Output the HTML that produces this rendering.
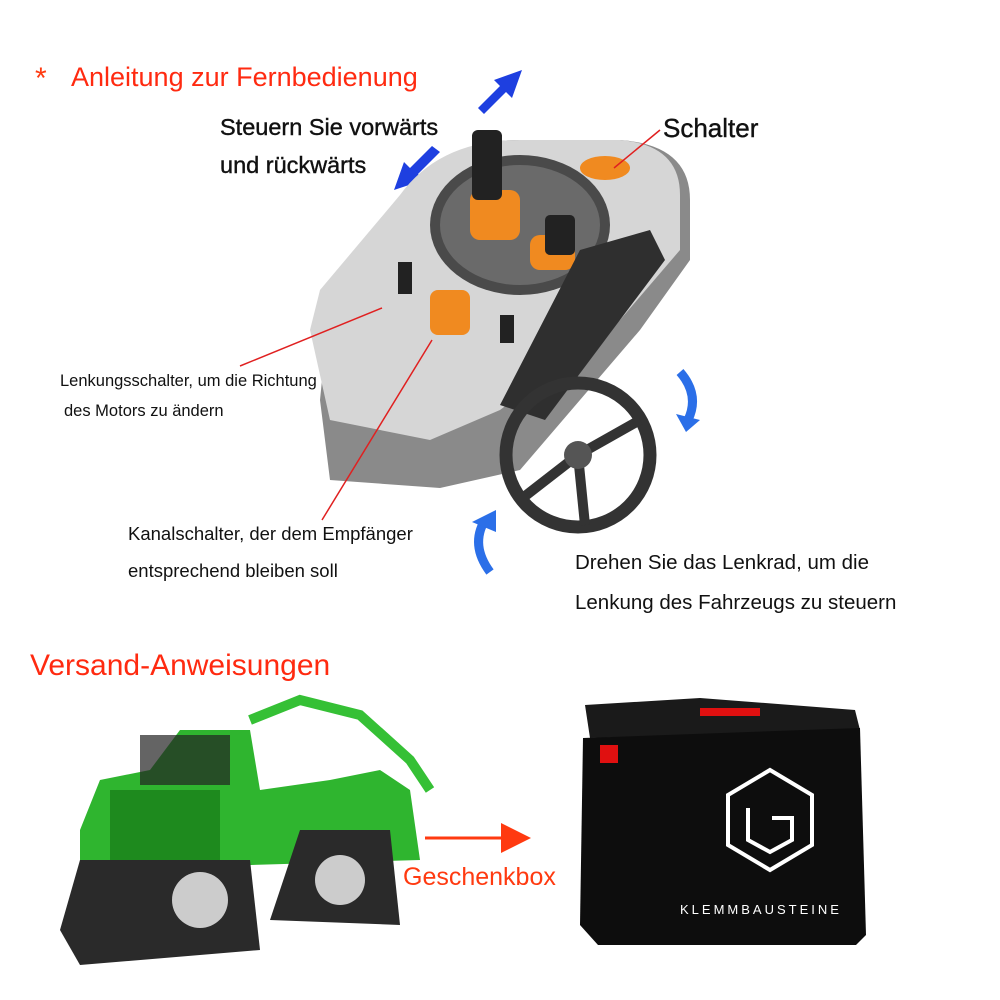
<!DOCTYPE html>
<html><head><meta charset="utf-8"><style>
html,body{margin:0;padding:0;background:#fff;}
#c{position:relative;width:1000px;height:1000px;overflow:hidden;font-family:"Liberation Sans",sans-serif;}
.t{position:absolute;white-space:nowrap;line-height:1;}
svg{position:absolute;left:0;top:0;}
</style></head><body><div id="c">
<svg width="1000" height="1000" viewBox="0 0 1000 1000">
<defs>
<marker id="rh" markerWidth="10" markerHeight="10" refX="8" refY="5" orient="auto"><path d="M0,0 L10,5 L0,10 z" fill="#ff3a10"/></marker>
</defs>
<polygon points="478,108 500,86 494,80 522,70 512,98 506,92 484,114" fill="#1e3fe0"/>
<polygon points="440,152 418,174 424,180 394,190 404,162 410,168 432,146" fill="#1e3fe0"/>
<path d="M680,372 Q700,395 688,420" stroke="#2b6fe8" stroke-width="9" fill="none"/>
<polygon points="676,414 700,420 686,432" fill="#2b6fe8"/>
<path d="M490,572 Q470,545 485,520" stroke="#2b6fe8" stroke-width="9" fill="none"/>
<polygon points="472,522 496,510 496,532" fill="#2b6fe8"/>
<path d="M330,300 L400,200 Q440,140 520,140 L620,140 Q690,145 690,200 L690,260 L640,330 L520,470 L440,488 L330,480 L320,400 Z" fill="#8a8a8a"/>
<path d="M320,290 L400,195 Q440,140 520,140 L620,140 Q680,145 680,195 L680,250 L620,320 L500,410 L430,440 L330,420 L310,330 Z" fill="#d6d6d6"/>
<ellipse cx="520" cy="225" rx="90" ry="70" fill="#4a4a4a"/>
<ellipse cx="520" cy="225" rx="80" ry="60" fill="#6a6a6a"/>
<rect x="470" y="190" width="50" height="50" rx="10" fill="#f08a20"/>
<rect x="530" y="235" width="45" height="35" rx="10" fill="#f08a20"/>
<rect x="472" y="130" width="30" height="70" rx="6" fill="#222"/>
<rect x="545" y="215" width="30" height="40" rx="5" fill="#222"/>
<ellipse cx="605" cy="168" rx="25" ry="12" fill="#f08a20"/>
<rect x="430" y="290" width="40" height="45" rx="8" fill="#f08a20"/>
<rect x="398" y="262" width="14" height="32" fill="#222"/>
<rect x="500" y="315" width="14" height="28" fill="#222"/>
<path d="M580,250 L650,230 L665,260 L545,420 L500,405 Z" fill="#2f2f2f"/>
<circle cx="578" cy="455" r="72" fill="none" stroke="#333" stroke-width="13"/>
<line x1="578" y1="455" x2="520" y2="500" stroke="#333" stroke-width="10"/>
<line x1="578" y1="455" x2="640" y2="420" stroke="#333" stroke-width="10"/>
<line x1="578" y1="455" x2="585" y2="525" stroke="#333" stroke-width="10"/>
<circle cx="578" cy="455" r="14" fill="#555"/>
<line x1="660" y1="130" x2="614" y2="168" stroke="#e02020" stroke-width="1.5"/>
<line x1="382" y1="308" x2="240" y2="366" stroke="#e02020" stroke-width="1.5"/>
<line x1="432" y1="340" x2="322" y2="520" stroke="#e02020" stroke-width="1.5"/>
<path d="M80,830 L100,780 L150,770 L180,730 L250,730 L260,790 L330,780 L380,770 L410,790 L420,860 L80,870 Z" fill="#2fb52f"/>
<path d="M250,720 L300,700 L360,715 L410,760 L430,790" stroke="#35c035" stroke-width="10" fill="none"/>
<rect x="140" y="735" width="90" height="50" fill="#222" opacity=".7"/>
<rect x="110" y="790" width="110" height="80" fill="#1e8a1e"/>
<path d="M60,930 L80,860 L250,860 L260,950 L80,965 Z" fill="#2a2a2a"/>
<path d="M270,920 L300,830 L390,830 L400,925 Z" fill="#2a2a2a"/>
<circle cx="200" cy="900" r="28" fill="#ccc"/>
<circle cx="340" cy="880" r="25" fill="#ccc"/>
<line x1="425" y1="838" x2="525" y2="838" stroke="#ff3a10" stroke-width="3" marker-end="url(#rh)"/>
<polygon points="585,705 700,698 855,710 860,730 590,738" fill="#1a1a1a"/>
<polygon points="583,738 860,728 866,935 856,945 598,945 580,925" fill="#0d0d0d"/>
<polygon points="700,708 760,708 760,716 700,716" fill="#e01010"/>
<rect x="600" y="745" width="18" height="18" fill="#e01010"/>
<g stroke="#fff" stroke-width="4" fill="none">
<polygon points="770,770 812,795 812,845 770,870 728,845 728,795"/>
<path d="M748,808 L748,840 L770,852 L792,840 L792,818 L772,818"/>
</g>
</svg>
<div class="t" style="left:35px;top:64px;font-size:30px;color:#ff3a10;">*</div>
<div class="t" style="left:71px;top:64px;font-size:27px;color:#ff2a10;">Anleitung zur Fernbedienung</div>
<div class="t" style="left:220px;top:116px;font-size:23.5px;color:#111;-webkit-text-stroke:.4px #111;">Steuern Sie vorwärts</div>
<div class="t" style="left:220px;top:154px;font-size:23.5px;color:#111;-webkit-text-stroke:.4px #111;">und rückwärts</div>
<div class="t" style="left:663px;top:115px;font-size:26px;color:#111;-webkit-text-stroke:.4px #111;">Schalter</div>
<div class="t" style="left:60px;top:373px;font-size:16.5px;color:#111;">Lenkungsschalter, um die Richtung</div>
<div class="t" style="left:64px;top:403px;font-size:16.5px;color:#111;">des Motors zu ändern</div>
<div class="t" style="left:128px;top:525px;font-size:18.5px;color:#111;">Kanalschalter, der dem Empfänger</div>
<div class="t" style="left:128px;top:562px;font-size:18.5px;color:#111;">entsprechend bleiben soll</div>
<div class="t" style="left:575px;top:553px;font-size:20.5px;color:#111;">Drehen Sie das Lenkrad, um die</div>
<div class="t" style="left:575px;top:593px;font-size:20.5px;color:#111;">Lenkung des Fahrzeugs zu steuern</div>
<div class="t" style="left:30px;top:651px;font-size:30px;color:#ff2a10;">Versand-Anweisungen</div>
<div class="t" style="left:403px;top:865px;font-size:25px;color:#ff3a10;">Geschenkbox</div>
<div class="t" style="left:680px;top:903px;font-size:13px;color:#fff;letter-spacing:3px;">KLEMMBAUSTEINE</div>
</div></body></html>
